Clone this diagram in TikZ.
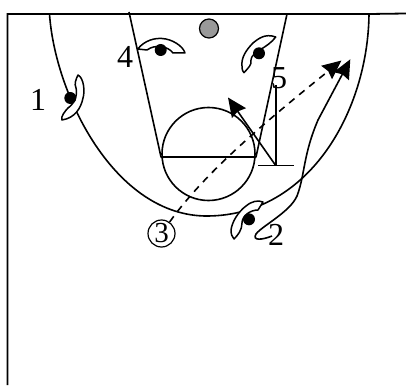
\documentclass[tikz,border=0pt]{standalone}
\usepackage{fontspec}
\setmainfont{Liberation Serif}
\usetikzlibrary{arrows.meta, positioning}
\definecolor{hoopgray}{HTML}{999999}

\begin{document}
\begin{tikzpicture}[
  x=1pt, y=-1pt,
  court/.style={line width=1.6pt, line join=round},
  guard/.style={draw, fill=white, line width=1.5pt, line join=round},
  dot/.style={circle, fill=black, inner sep=0pt, minimum size=12pt},
  num/.style={font=\fontsize{32}{32}\selectfont, inner sep=0pt},
  cut/.style={line width=1.6pt, -{Stealth[length=19pt, width=17pt, inset=2pt]}},
  pass/.style={cut, dash pattern=on 7pt off 6pt},
]
  \useasboundingbox (0,0) rectangle (406,385);

  % -- Court --
  \draw[line width=1.8pt] (7.5,385) -- (7.5,14) -- (369,14) -- (406,13.5);
  \draw[line width=2.4pt] (40,14) -- (72,14);
  \draw[line width=2.4pt] (355,14) -- (378,14);
  \draw[court] (129,12) -- (161,157) -- (256,157) -- (287,14);
  \draw[court] (208.5,154) circle (46.5);
  \draw[court] (49.5,14) .. controls (55,95) and (115,217) .. (208,216)
    .. controls (310,215) and (368,110) .. (369,14);
  \node[circle, draw, fill=hoopgray, line width=1.2pt, minimum size=19pt,
    inner sep=0pt] (hoop) at (209,28.5) {};

  % -- Screen --
  \coordinate (screentop) at (275.7,85);
  \coordinate (screenfoot) at (275.7,165.5);
  \coordinate (screenleft) at (258,165.5);
  \coordinate (screenright) at (294,165.5);
  \draw[court] (screentop) -- (screenfoot);
  \draw[court] (screenleft) -- (screenright);

  % -- Numbers --
  \node[num] (one) at (38,100) {1};
  \node[num] (four) at (125,57) {4};
  \node[num] (five) at (279,78) {5};
  \node[num] (two) at (276,235) {2};
  \node[num, draw, circle, minimum size=27pt, line width=1.2pt,
    font=\fontsize{29}{29}\selectfont] (three) at (161.5,233.5) {3};

  % -- Cuts --
  \coordinate (rolltip) at (228,97.5);
  \coordinate (passtip) at (341.5,60.5);
  \coordinate (cuttip) at (350.3,59.3);
  \coordinate (cuttail) at (272,236);
  \draw[cut] (screenfoot) -- (rolltip);
  \draw[pass] (three) .. controls (205,172) and (270,118) .. (passtip);
  \draw[cut] (cuttail) .. controls (262,240) and (252,241) .. (256,234)
    .. controls (262,226) and (290,212) .. (297,196)
    .. controls (305,175) and (303,155) .. (318,120)
    -- (cuttip);

  % -- Defenders --
  \draw[guard] (78,75) .. controls (84,78) and (85,92) .. (83,98)
    .. controls (81,108) and (75,118) .. (62,120)
    .. controls (60,117) and (66,110) .. (68,108)
    .. controls (74,104) and (78,95) .. (76,88)
    .. controls (74,84) and (76,79) .. (78,75) -- cycle;
  \node[dot] (ballone) at (70.3,98) {};

  \draw[guard] (137.7,49) .. controls (145,40) and (155,38) .. (162,38.5)
    .. controls (172,39) and (183,46) .. (185,53)
    -- (173,53) .. controls (168,46) and (155,44) .. (147,50)
    -- cycle;
  \node[dot] (ballfour) at (160.7,50) {};

  \draw[guard] (275.7,37) .. controls (265,33) and (258,39) .. (253,43)
    .. controls (246,50) and (241,58) .. (242,66)
    .. controls (242,70) and (243,72) .. (244,72.7)
    .. controls (248,68) and (252,65) .. (251,60)
    .. controls (251,52) and (268,48) .. (275.7,37) -- cycle;
  \node[dot] (ballfive) at (259,53.3) {};

  \draw[guard] (263,202) .. controls (258,200) and (252,201) .. (246,206)
    .. controls (238,212) and (232,222) .. (231,230)
    .. controls (231,234) and (232,237) .. (234,239)
    .. controls (238,235) and (242,230) .. (242,223)
    .. controls (242,216) and (250,210) .. (258,210)
    -- cycle;
  \node[dot] (balltwo) at (249,219.3) {};
\end{tikzpicture}
\end{document}
